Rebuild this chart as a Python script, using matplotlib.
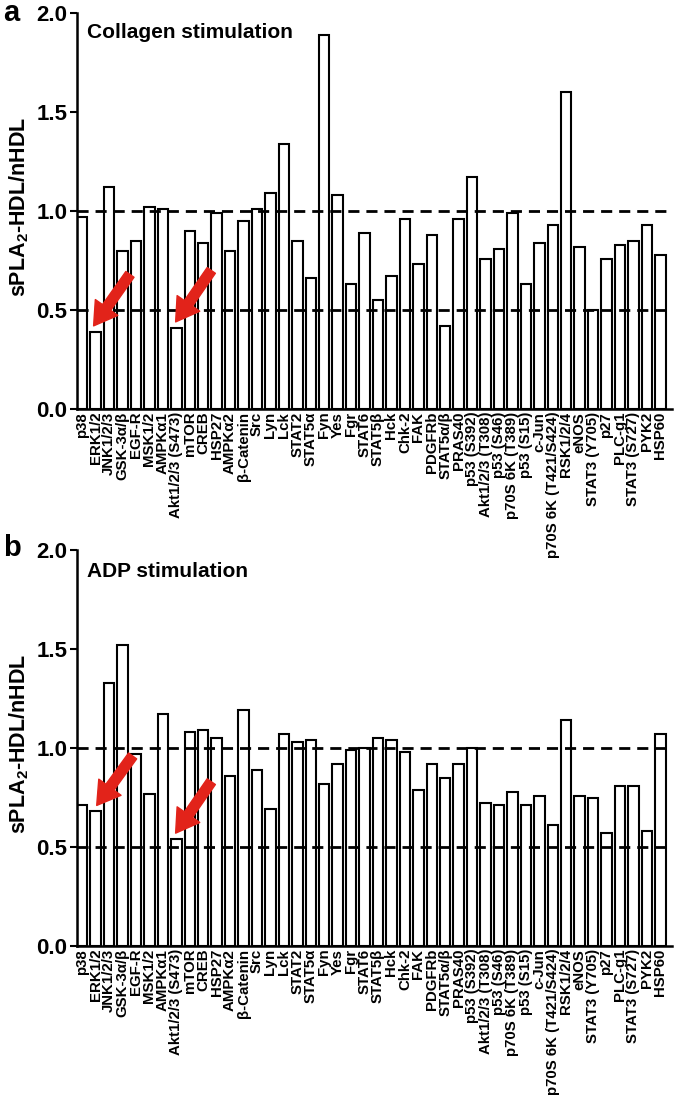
import numpy as np
import matplotlib.pyplot as plt

plt.rcParams['font.family'] = ['Liberation Sans', 'DejaVu Sans']
plt.rcParams['mathtext.fontset'] = 'custom'
plt.rcParams['mathtext.bf'] = 'Liberation Sans:bold'
plt.rcParams['mathtext.rm'] = 'Liberation Sans'

# kinase / protein names (same for both panels)
labels = ['p38', 'ERK1/2', 'JNK1/2/3', 'GSK-3α/β', 'EGF-R', 'MSK1/2', 'AMPKα1',
          'Akt1/2/3 (S473)', 'mTOR', 'CREB', 'HSP27', 'AMPKα2', 'β-Catenin', 'Src',
          'Lyn', 'Lck', 'STAT2', 'STAT5α', 'Fyn', 'Yes', 'Fgr', 'STAT6', 'STAT5β',
          'Hck', 'Chk-2', 'FAK', 'PDGFRb', 'STAT5α/β', 'PRAS40', 'p53 (S392)',
          'Akt1/2/3 (T308)', 'p53 (S46)', 'p70S 6K (T389)', 'p53 (S15)', 'c-Jun',
          'p70S 6K (T421/S424)', 'RSK1/2/4', 'eNOS', 'STAT3 (Y705)', 'p27', 'PLC-g1',
          'STAT3 (S727)', 'PYK2', 'HSP60']

# ratio sPLA2-HDL / nHDL, collagen stimulation
collagen = [0.97, 0.39, 1.12, 0.80, 0.85, 1.02, 1.01, 0.41, 0.90, 0.84, 0.99, 0.80,
            0.95, 1.01, 1.09, 1.34, 0.85, 0.66, 1.89, 1.08, 0.63, 0.89, 0.55, 0.67,
            0.96, 0.73, 0.88, 0.42, 0.96, 1.17, 0.76, 0.81, 0.99, 0.63, 0.84, 0.93,
            1.60, 0.82, 0.50, 0.76, 0.83, 0.85, 0.93, 0.78]

# ADP stimulation
adp = [0.71, 0.68, 1.33, 1.52, 0.97, 0.77, 1.17, 0.54, 1.08, 1.09, 1.05, 0.86,
       1.19, 0.89, 0.69, 1.07, 1.03, 1.04, 0.82, 0.92, 0.99, 1.00, 1.05, 1.04,
       0.98, 0.79, 0.92, 0.85, 0.92, 1.00, 0.72, 0.71, 0.78, 0.71, 0.76, 0.61,
       1.14, 0.76, 0.75, 0.57, 0.81, 0.81, 0.58, 1.07]

# red arrows (tail -> tip), pointing at ERK1/2 and Akt1/2/3 (S473)
arrows_a = [((3.55, 0.68), (0.85, 0.42)), ((9.6, 0.70), (6.95, 0.44))]
arrows_b = [((3.75, 0.96), (1.08, 0.71)), ((9.6, 0.83), (6.95, 0.57))]

fig = plt.figure(figsize=(6.75, 11.04), dpi=100)
x = np.arange(len(labels))
w = 0.78


def draw_panel(ax, vals, title, letter, arrows, title_y, letter_y):
    ax.patch.set_visible(False)
    ax.bar(x, vals, width=w, color='white', edgecolor='black', linewidth=1.5)
    ax.axhline(1.0, color='black', lw=2, ls=(0, (4, 2.5)), zorder=3)
    ax.axhline(0.5, color='black', lw=2, ls=(0, (4, 2.5)), zorder=3)
    ax.set_xlim(-w / 2, len(labels) - 1 + w / 2 + 0.45)
    ax.set_ylim(0, 2.0)
    ax.set_yticks([0.0, 0.5, 1.0, 1.5, 2.0])
    ax.set_yticklabels(['0.0', '0.5', '1.0', '1.5', '2.0'], fontsize=16, fontweight='bold')
    ax.set_xticks(x)
    ax.set_xticklabels(labels, rotation=90, fontsize=10.8, fontweight='bold')
    ax.tick_params(axis='x', length=0, pad=2)
    ax.tick_params(axis='y', width=1.5, length=5, pad=2)
    for s in ['top', 'right']:
        ax.spines[s].set_visible(False)
    for s in ['left', 'bottom']:
        ax.spines[s].set_linewidth(1.8)
    ax.set_ylabel(r'sPLA$_\mathbf{2}$-HDL/nHDL', fontsize=15.5, fontweight='bold')
    ax.yaxis.set_label_coords(-0.077, 0.51)
    ax.text(0.017, title_y, title, transform=ax.transAxes, fontsize=15, fontweight='bold',
            va='center', ha='left')
    ax.text(-0.124, letter_y, letter, transform=ax.transAxes, fontsize=21, fontweight='bold',
            va='center', ha='left')
    for tail, tip in arrows:
        ax.annotate('', xy=tip, xytext=tail,
                    arrowprops=dict(arrowstyle='simple,head_width=1.1,head_length=0.9,tail_width=0.4',
                                    color='#e2231a', mutation_scale=18, shrinkA=0, shrinkB=0),
                    zorder=5)


ax1 = fig.add_axes([0.114, 0.6295, 0.881, 0.3587])
draw_panel(ax1, collagen, 'Collagen stimulation', 'a', arrows_a, 0.952, 1.0)

ax2 = fig.add_axes([0.114, 0.1431, 0.881, 0.3587])
draw_panel(ax2, adp, 'ADP stimulation', 'b', arrows_b, 0.947, 1.005)

plt.savefig('out.png', dpi=100, facecolor='white')
